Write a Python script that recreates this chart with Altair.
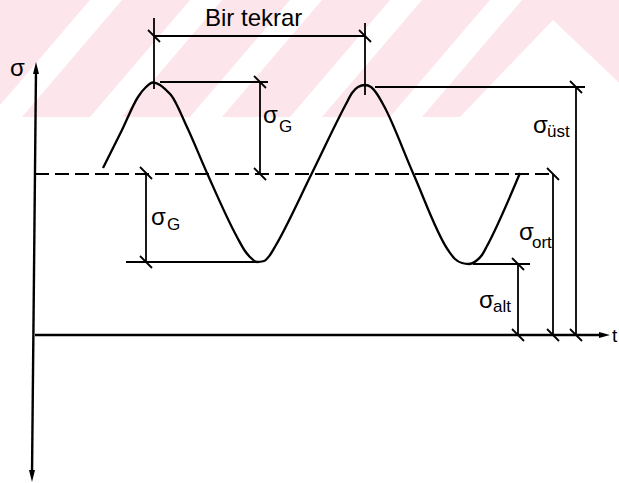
import altair as alt
import pandas as pd

# ---- stress-time cycle (t, sigma) ----
wave_t = [68, 87, 103, 111, 118, 125, 131, 136, 152, 172, 202, 210, 216, 222, 229,
          235, 241, 277, 311, 317, 323, 330, 336, 342, 349, 378, 413, 420, 427, 434,
          441, 447, 452, 485]
wave_s = [167, 205, 238, 248, 252.5, 250, 245, 240, 208, 162, 98, 84, 77, 73, 74,
          80, 90, 162, 231, 242, 248, 250, 248, 241, 229, 162, 85, 76, 72, 71,
          74, 80, 89, 162]

# mean stress (dashed)
mean_t = [0, 517]
mean_s = [161, 161]

# dimension / extension lines
dim_t1 = [119, 330, 119, 125, 225, 111, 91, 340, 541, 518, 438, 483]
dim_s1 = [317, 312, 299, 253, 253, 162, 73, 248, 248, 161, 71, 71]
dim_t2 = [119, 330, 330, 233, 225, 111, 221, 550, 541, 518, 495, 483]
dim_s2 = [246, 240, 299, 253, 161, 73, 73, 248, 0, 0, 71, 0]

# terminator ticks at the ends of the dimension lines
tick_t = [119, 330, 225, 225, 111, 111, 541, 541, 518, 518, 483, 483]
tick_s = [299, 299, 253, 161, 162, 73, 248, 0, 161, 0, 71, 0]

# coordinate axes
axis_t1 = [1, 0]
axis_s1 = [266, 0]
axis_t2 = [-3, 568]
axis_s2 = [-140, 0]

# arrow heads of the sigma axis (tip row, then base row of each head)
varrow_id = [0, 0, 1, 1]
varrow_s = [273, 261, -147, -135]
varrow_lo = [1, -2, -3, -6]
varrow_hi = [1, 4, -3, 0]
# arrow head of the time axis
harrow_t = [564, 575]
harrow_lo = [-3, 0]
harrow_hi = [3, 0]

# symbols and their subscripts
sym_t = [-25, 228, 116, 498, 484, 444]
sym_s = [259, 212, 110, 202, 95, 27]
sub_t = [244, 132, 512, 497, 458]
sub_s = [203, 105, 198, 87, 23]
sub_text = ["G", "G", "üst", "ort", "alt"]

# background band with diagonal light stripes
band_s = [218, 335]
stripe_bottom = [-45, 55, 155, 255, 355]
stripe_shift = 100
stripe_width = 32
peak_s = [315, 218]
peak_lo = [518, 425]
peak_hi = [518, 620]

X = dict(scale=alt.Scale(domain=[-35, 584], nice=False, zero=False), axis=None)
Y = dict(scale=alt.Scale(domain=[-148, 335], nice=False, zero=False), axis=None)

band = alt.Chart(pd.DataFrame({"t": [-35], "t2": [584], "s": [band_s[0]], "s2": [band_s[1]]})).mark_rect(
    color="#fde6eb", clip=True
).encode(x=alt.X("t:Q", **X), x2="t2:Q", y=alt.Y("s:Q", **Y), y2="s2:Q")

rows = []
for i, b in enumerate(stripe_bottom):
    rows.append({"id": i, "s": band_s[0], "lo": b, "hi": b + stripe_width})
    rows.append({"id": i, "s": band_s[1], "lo": b + stripe_shift, "hi": b + stripe_shift + stripe_width})
for s, lo, hi in zip(peak_s, peak_lo, peak_hi):
    rows.append({"id": 99, "s": s, "lo": lo, "hi": hi})
stripes = alt.Chart(pd.DataFrame(rows)).mark_area(
    orient="horizontal", color="white", clip=True
).encode(y=alt.Y("s:Q", **Y), x=alt.X("lo:Q", **X), x2="hi:Q", detail="id:N")

axes = alt.Chart(pd.DataFrame({"t": axis_t1, "s": axis_s1, "t2": axis_t2, "s2": axis_s2})).mark_rule(
    color="#000", strokeWidth=2.4
).encode(x=alt.X("t:Q", **X), y=alt.Y("s:Q", **Y), x2="t2:Q", y2="s2:Q")

v_arrows = alt.Chart(pd.DataFrame({"id": varrow_id, "s": varrow_s, "lo": varrow_lo, "hi": varrow_hi})).mark_area(
    orient="horizontal", color="#000", opacity=1
).encode(y=alt.Y("s:Q", **Y), x=alt.X("lo:Q", **X), x2="hi:Q", detail="id:N")

h_arrow = alt.Chart(pd.DataFrame({"t": harrow_t, "lo": harrow_lo, "hi": harrow_hi})).mark_area(
    orient="vertical", color="#000", opacity=1
).encode(x=alt.X("t:Q", **X), y=alt.Y("lo:Q", **Y), y2="hi:Q")

mean_line = alt.Chart(pd.DataFrame({"t": mean_t, "s": mean_s})).mark_line(
    color="#000", strokeWidth=2, strokeDash=[14, 6]
).encode(x=alt.X("t:Q", **X), y=alt.Y("s:Q", **Y))

dims = alt.Chart(pd.DataFrame({"t": dim_t1, "s": dim_s1, "t2": dim_t2, "s2": dim_s2})).mark_rule(
    color="#000", strokeWidth=1.8
).encode(x=alt.X("t:Q", **X), y=alt.Y("s:Q", **Y), x2="t2:Q", y2="s2:Q")

ticks = alt.Chart(pd.DataFrame({"t": tick_t, "s": tick_s})).transform_calculate(
    ta="datum.t - 6", sa="datum.s + 6", tb="datum.t + 6", sb="datum.s - 6"
).mark_rule(color="#000", strokeWidth=1.8).encode(
    x=alt.X("ta:Q", **X), y=alt.Y("sa:Q", **Y), x2="tb:Q", y2="sb:Q"
)

wave = alt.Chart(pd.DataFrame({"t": wave_t, "s": wave_s, "o": list(range(len(wave_t)))})).mark_line(
    color="#000", strokeWidth=2.3, interpolate="monotone"
).encode(x=alt.X("t:Q", **X), y=alt.Y("s:Q", **Y), order="o:Q")

FONT = "Liberation Sans"
syms = alt.Chart(pd.DataFrame({"t": sym_t, "s": sym_s, "txt": ["σ"] * len(sym_t)})).mark_text(
    font=FONT, fontSize=24, align="left", baseline="alphabetic", color="#000"
).encode(x=alt.X("t:Q", **X), y=alt.Y("s:Q", **Y), text="txt:N")

subs = alt.Chart(pd.DataFrame({"t": sub_t, "s": sub_s, "txt": sub_text})).mark_text(
    font=FONT, fontSize=17, align="left", baseline="alphabetic", color="#000"
).encode(x=alt.X("t:Q", **X), y=alt.Y("s:Q", **Y), text="txt:N")

labels = alt.Chart(pd.DataFrame({"t": [170], "s": [309], "txt": ["Bir tekrar"]})).mark_text(
    font=FONT, fontSize=24, align="left", baseline="alphabetic", color="#000"
).encode(x=alt.X("t:Q", **X), y=alt.Y("s:Q", **Y), text="txt:N")

t_label = alt.Chart(pd.DataFrame({"t": [577], "s": [-7], "txt": ["t"]})).mark_text(
    font=FONT, fontSize=19, align="left", baseline="alphabetic", color="#000"
).encode(x=alt.X("t:Q", **X), y=alt.Y("s:Q", **Y), text="txt:N")

chart = alt.layer(
    band, stripes, axes, v_arrows, h_arrow, mean_line, dims, ticks, wave, syms, subs,
    labels, t_label
).properties(
    width=619, height=483, padding=0, autosize=alt.AutoSizeParams(type="none"),
    background="white"
).configure_view(stroke=None)

chart.save("out.html", embed_options={"renderer": "svg", "actions": False})
